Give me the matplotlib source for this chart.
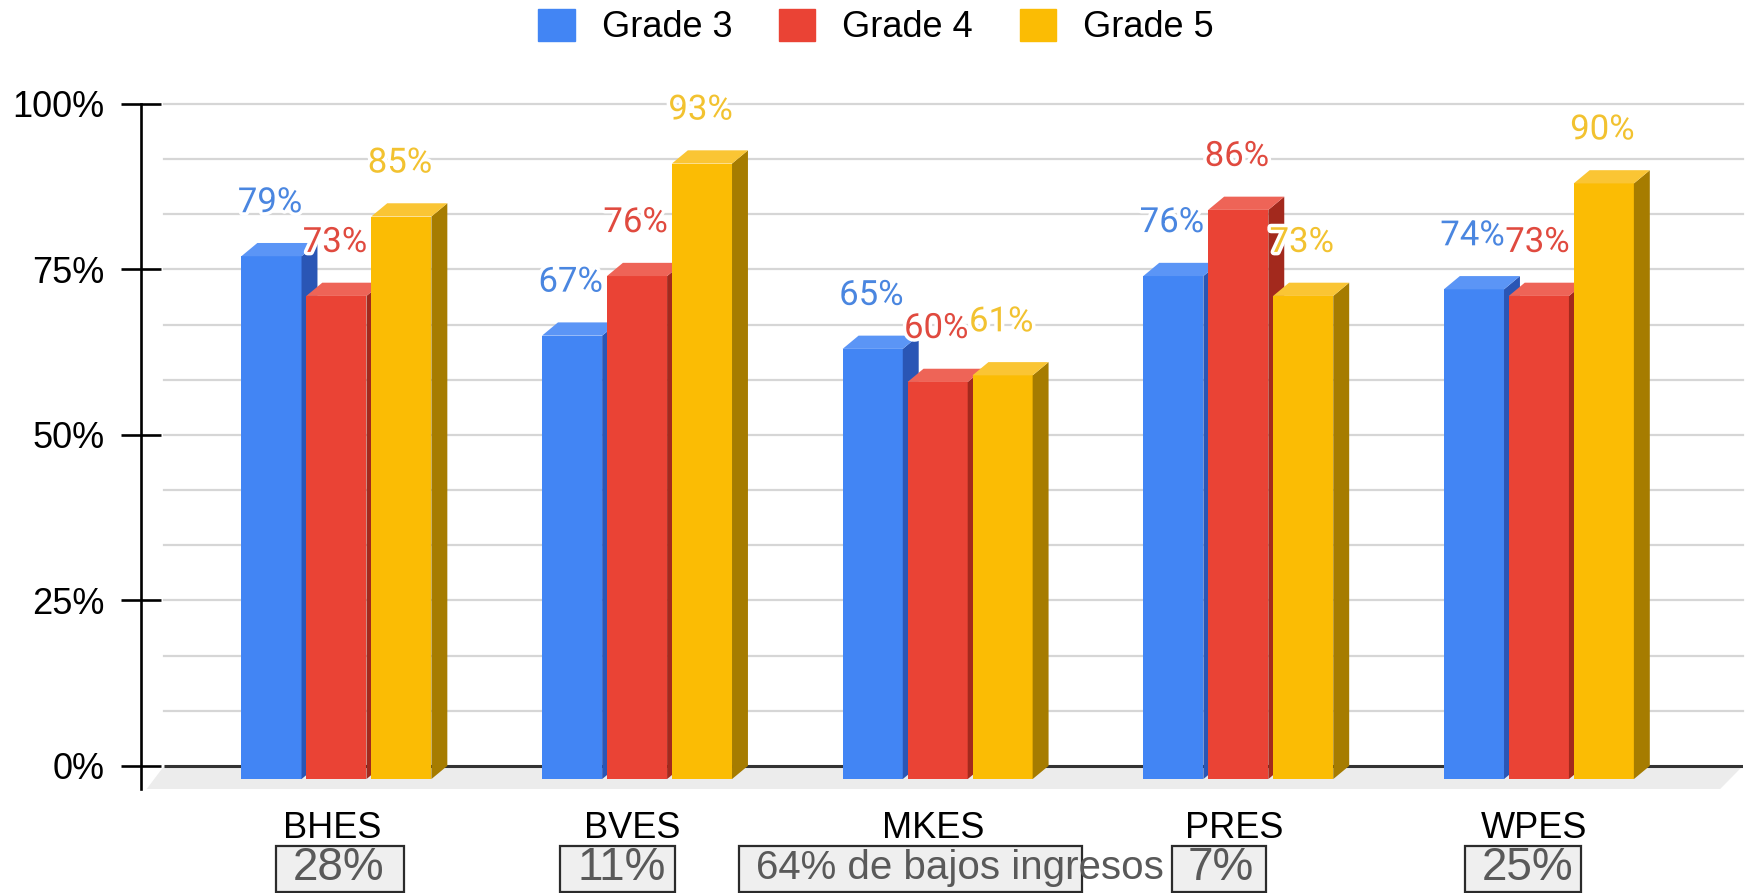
import matplotlib
matplotlib.use("Agg")
import matplotlib.pyplot as plt
import matplotlib.patheffects as pe
from matplotlib.patches import Rectangle, Patch
import numpy as np

# ---------------- data ----------------
schools = ["BHES", "BVES", "MKES", "PRES", "WPES"]
series_names = ["Grade 3", "Grade 4", "Grade 5"]
grade3 = [79, 67, 65, 76, 74]
grade4 = [73, 76, 60, 86, 73]
grade5 = [85, 93, 61, 73, 90]
low_income = ["28%", "11%", "64% de bajos ingresos", "7%", "25%"]
yticks = [0, 25, 50, 75, 100]
ytick_labels = ["0%", "25%", "50%", "75%", "100%"]

# ---------------- style ----------------
front = ["#4285F4", "#EA4335", "#FBBC04"]
side = ["#2a56b5", "#a3291d", "#a67c00"]
top = ["#5b95f6", "#ee6457", "#fac534"]
label_col = ["#4a86e0", "#e04a3f", "#f2c230"]

W, H = 1752, 893
fig = plt.figure(figsize=(W / 100, H / 100), dpi=100)
ax = fig.add_axes([141 / W, 1 - 789 / H, (1743 - 141) / W, (789 - 104) / H])
xmin, xmax = -0.635, 4.694
ax.set_xlim(xmin, xmax)
ax.set_ylim(-0.035, 1.0)

for s in ["top", "right", "bottom"]:
    ax.spines[s].set_visible(False)
ax.spines["left"].set_linewidth(1.9)
ax.spines["left"].set_color("black")

ax.set_yticks([v / 100 for v in yticks])
ax.set_yticklabels(ytick_labels, fontsize=26, family="Liberation Sans")
ax.tick_params(axis="y", direction="inout", length=29, width=1.9, pad=12)
ax.set_xticks(range(len(schools)))
ax.set_xticklabels(schools, fontsize=26, family="Liberation Sans")
ax.tick_params(axis="x", length=0, pad=16)

# grid (back wall)
gx0 = -0.558
for g in np.linspace(0, 1, 13)[1:]:
    ax.plot([gx0, xmax], [g, g], color="#d6d6d6", lw=1.6, zorder=1, clip_on=False)

# floor
dxf, dyf = 0.058, 0.035
ax.fill([gx0, xmax, xmax - 0.076, gx0 - dxf], [0, 0, -dyf, -dyf],
        color="#ececec", lw=0, zorder=1)
ax.plot([gx0, xmax], [0, 0], color="#333333", lw=2.2, zorder=2, solid_capstyle="butt")

# 3D bars
w = 0.2
pitch = 0.216
first_left = -0.301
dx, dy = 0.053, 0.02
data = [grade3, grade4, grade5]
handles = []
for i in range(len(schools)):
    for k, vals in enumerate(data):
        v = vals[i] / 100
        L = i + first_left + k * pitch
        b = ax.bar(L + w / 2, v, width=w, bottom=-dy, color=front[k], lw=0, zorder=3 + k)
        if i == 0:
            handles.append(b)
        ax.fill([L + w, L + w + dx, L + w + dx, L + w], [-dy, 0, v, v - dy],
                color=side[k], lw=0, zorder=3 + k)
        ax.fill([L, L + w, L + w + dx, L + dx], [v - dy, v - dy, v, v],
                color=top[k], lw=0, zorder=3 + k)
        ax.annotate(f"{vals[i]}%", (L + w / 2, v), xytext=(-1, 29),
                    textcoords="offset points", ha="center", va="center",
                    fontsize=25, family="Roboto", color=label_col[k], zorder=10,
                    path_effects=[pe.withStroke(linewidth=5, foreground="white")])

# legend
leg = fig.legend([Patch(color=c) for c in front], series_names, loc="center",
                 bbox_to_anchor=(876 / W, 1 - 27 / H), ncol=3, frameon=False,
                 prop={"family": "Liberation Sans", "size": 26},
                 handlelength=1.0, handleheight=1.0, handletextpad=0.75,
                 columnspacing=1.3)

# low-income boxes under category labels
boxes = [(276, 404), (560, 675), (739, 1082), (1172, 1266), (1465, 1581)]
text_x = [339, 622, 756, 1221, 1528]
for (x0, x1), tx, t in zip(boxes, text_x, low_income):
    fig.patches.append(Rectangle((x0 / W, 1 / H), (x1 - x0) / W, (846 - 892) / H * -1,
                                 transform=fig.transFigure, facecolor="#efefef",
                                 edgecolor="#2b2b2b", lw=1.6))
    if len(t) > 4:
        fig.text(tx / W, 1 - 868 / H, t, ha="left", va="center", fontsize=29,
                 family="Liberation Sans", color="#595959")
    else:
        fig.text(tx / W, 1 - 868 / H, t, ha="center", va="center", fontsize=33,
                 family="Liberation Sans", color="#595959")

fig.savefig("out.png", dpi=100, facecolor="white")
